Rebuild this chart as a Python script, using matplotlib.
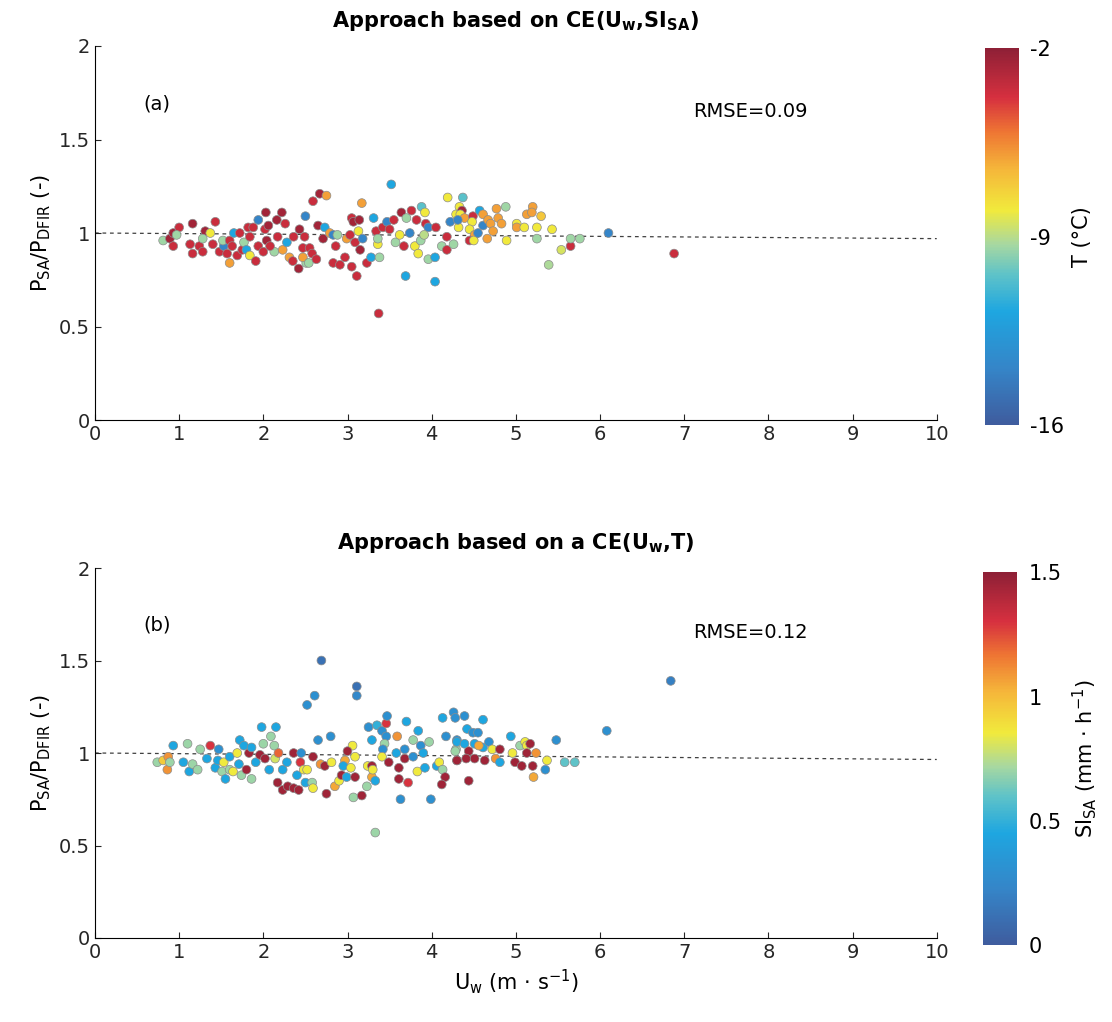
import numpy as np
import matplotlib
matplotlib.use("Agg")
import matplotlib.pyplot as plt
from matplotlib.colors import LinearSegmentedColormap, Normalize

# panel (a): wind speed, ratio, temperature
u_a = [0.81, 0.89, 0.93, 1.00, 0.97, 0.93, 1.16, 1.13, 1.16, 1.24, 1.28, 1.31, 1.37, 1.28, 1.40,
       1.43, 1.48, 1.53, 1.52, 1.57, 1.60, 1.60, 1.65, 1.63, 1.69, 1.72, 1.75, 1.77, 1.80, 1.82,
       1.84, 1.88, 1.84, 1.91, 1.94, 1.94, 2.00, 2.02, 2.03, 2.06, 2.04, 2.13, 2.08, 2.16, 2.22,
       2.17, 2.23, 2.26, 2.28, 2.31, 2.35, 2.36, 2.42, 2.43, 2.47, 2.49, 2.50, 2.51, 2.67, 2.75,
       2.59, 2.55, 2.58, 2.47, 2.54, 2.63, 2.65, 2.71, 2.73, 2.79, 2.83, 2.88, 2.83, 2.91, 2.86,
       2.97, 2.99, 3.03, 3.05, 3.07, 3.05, 3.09, 3.11, 3.14, 3.15, 3.17, 3.13, 3.18, 3.23, 3.31,
       3.34, 3.36, 3.36, 3.37, 3.28, 3.38, 3.42, 3.47, 3.52, 3.50, 3.55, 3.57, 3.62, 3.64, 3.67,
       3.69, 3.70, 3.74, 3.76, 3.80, 3.82, 3.84, 3.87, 3.88, 3.92, 3.93, 3.96, 3.96, 4.04, 4.04,
       4.05, 3.91, 4.12, 4.18, 4.18, 4.19, 4.22, 4.26, 4.29, 4.37, 4.33, 4.36, 4.34, 4.39, 4.49,
       4.57, 4.61, 4.48, 4.32, 4.45, 4.31, 4.61, 4.67, 4.70, 4.77, 4.88, 4.79, 4.83, 4.73, 4.51,
       4.45, 4.50, 4.66, 4.89, 4.55, 5.01, 5.01, 5.13, 5.20, 5.19, 5.10, 5.25, 5.30, 5.43, 5.25,
       5.54, 5.65, 5.65, 5.76, 5.39, 6.10, 6.88]
ratio_a = [0.96, 0.97, 1.00, 1.03, 0.99, 0.93, 1.05, 0.94, 0.89, 0.93, 0.90, 1.01, 1.00, 0.97, 0.94,
           1.06, 0.90, 0.93, 0.96, 0.89, 0.84, 0.96, 1.00, 0.93, 0.88, 1.00, 0.91, 0.95, 0.91, 1.03,
           0.88, 1.03, 0.98, 0.85, 1.07, 0.93, 0.90, 1.02, 1.11, 1.04, 0.96, 0.90, 0.93, 1.07, 1.11,
           0.98, 0.91, 1.05, 0.95, 0.87, 0.85, 0.98, 0.81, 1.02, 0.92, 0.98, 1.09, 0.84, 1.21, 1.20,
           1.17, 0.92, 0.89, 0.87, 0.84, 0.86, 1.04, 0.97, 1.03, 1.00, 0.99, 0.99, 0.84, 0.83, 0.93,
           0.87, 0.97, 0.99, 1.08, 1.06, 0.82, 0.95, 0.77, 1.07, 0.91, 1.16, 1.01, 0.97, 0.84, 1.08,
           1.01, 0.94, 0.97, 0.57, 0.87, 0.87, 1.03, 1.06, 1.26, 1.02, 1.07, 0.95, 0.99, 1.11, 0.93,
           0.77, 1.08, 1.00, 1.12, 0.93, 1.07, 0.89, 0.96, 1.14, 1.11, 1.05, 1.03, 0.86, 0.87, 0.74,
           1.03, 0.99, 0.93, 0.91, 0.98, 1.19, 1.06, 0.94, 1.10, 1.19, 1.14, 1.12, 1.10, 1.08, 1.09,
           1.12, 1.10, 1.06, 1.03, 1.02, 1.07, 1.04, 1.07, 1.05, 1.13, 1.14, 1.08, 1.05, 1.01, 0.99,
           0.96, 0.96, 0.97, 0.96, 1.00, 1.05, 1.03, 1.10, 1.14, 1.11, 1.03, 1.03, 1.09, 1.02, 0.97,
           0.91, 0.93, 0.97, 0.97, 0.83, 1.00, 0.89]
temp_a = [-9.4, -2.5, -2.5, -3.5, -9.4, -3.5, -2.5, -3.5, -3.5, -3.5, -3.5, -2.5, -8, -9.4, -3.5,
          -3.5, -3.5, -13.9, -9.4, -3.5, -6, -3.5, -11.8, -3.5, -3.5, -3.5, -3.5, -9.4, -11.8, -3.5,
          -8, -3.5, -3.5, -3.5, -13.9, -3.5, -3.5, -3.5, -2.5, -2.5, -2.5, -9.4, -3.5, -2.5, -2.5,
          -3.5, -6, -3.5, -11.8, -6, -3.5, -3.5, -2.5, -2.5, -3.5, -3.5, -13.9, -9.4, -2.5, -6,
          -3.5, -3.5, -3.5, -6, -9.4, -3.5, -2.5, -2.5, -11.8, -6, -13.9, -9.4, -3.5, -3.5, -3.5,
          -3.5, -6, -3.5, -3.5, -2.5, -3.5, -3.5, -3.5, -2.5, -2.5, -6, -8, -13.9, -3.5, -11.8,
          -3.5, -8, -9.4, -3.5, -11.8, -9.4, -3.5, -13.9, -11.8, -3.5, -3.5, -9.4, -8, -2.5, -3.5,
          -11.8, -9.4, -13.9, -3.5, -8, -3.5, -8, -9.4, -10.5, -8, -3.5, -13.9, -9.4, -11.8, -11.8,
          -3.5, -9, -9.4, -3.5, -3.5, -8, -13.9, -9.4, -8, -10.5, -8, -2.5, -8, -6, -3.5,
          -11.8, -6, -8, -8, -8, -13.9, -13.9, -6, -6, -6, -9.4, -6, -6, -6, -6,
          -3.5, -8, -6, -8, -13.9, -8, -6, -6, -6, -6, -8, -8, -7, -8, -9.4,
          -8.5, -3.5, -9.4, -9.4, -9.2, -13.9, -3.5]

# panel (b): wind speed, ratio, snowfall intensity
u_b = [0.74, 0.81, 0.87, 0.86, 0.89, 0.93, 1.05, 1.10, 1.12, 1.16, 1.25, 1.22, 1.33, 1.37, 1.43,
       1.47, 1.46, 1.53, 1.51, 1.55, 1.60, 1.60, 1.64, 1.69, 1.71, 1.74, 1.72, 1.77, 1.80, 1.83,
       1.86, 1.86, 1.91, 1.96, 2.02, 2.00, 2.09, 1.98, 2.15, 2.13, 2.14, 2.07, 2.17, 2.23, 2.18,
       2.23, 2.28, 2.29, 2.36, 2.42, 2.36, 2.45, 2.44, 2.40, 2.48, 2.50, 2.52, 2.61, 2.69, 2.65,
       2.80, 3.11, 3.11, 2.59, 2.68, 2.73, 2.81, 2.52, 2.58, 2.59, 2.75, 2.85, 2.90, 2.93, 2.97,
       2.95, 2.99, 3.04, 3.06, 3.00, 3.09, 3.09, 3.07, 3.17, 3.23, 3.24, 3.29, 3.29, 3.33, 3.30,
       3.33, 3.25, 3.29, 3.35, 3.41, 3.46, 3.46, 3.47, 3.44, 3.42, 3.41, 3.49, 3.59, 3.58, 3.61,
       3.61, 3.63, 3.68, 3.68, 3.70, 3.72, 3.78, 3.78, 3.83, 3.84, 3.87, 3.90, 3.92, 3.97, 3.99,
       4.06, 4.09, 4.13, 4.16, 4.12, 4.17, 4.13, 4.26, 4.28, 4.30, 4.29, 4.30, 4.39, 4.61, 4.42,
       4.49, 4.55, 4.30, 4.39, 4.51, 4.61, 4.68, 4.56, 4.72, 4.28, 4.44, 4.30, 4.41, 4.51, 4.63,
       4.76, 4.81, 4.81, 4.94, 4.96, 4.99, 5.07, 5.05, 5.11, 5.13, 5.17, 5.13, 5.24, 5.20, 5.21,
       5.37, 5.35, 5.48, 5.58, 5.70, 4.44, 6.08, 6.84]
ratio_b = [0.95, 0.96, 0.98, 0.91, 0.95, 1.04, 0.95, 1.05, 0.90, 0.94, 1.02, 0.91, 0.97, 1.04, 0.92,
           1.02, 0.96, 0.95, 0.90, 0.86, 0.98, 0.91, 0.90, 1.00, 0.94, 0.88, 1.07, 1.04, 0.91, 1.00,
           1.03, 0.86, 0.95, 0.99, 0.97, 1.05, 1.09, 1.14, 1.14, 1.04, 0.97, 0.91, 0.84, 0.80, 1.00,
           0.91, 0.95, 0.82, 0.81, 0.80, 1.00, 1.00, 0.95, 0.88, 0.91, 0.84, 1.26, 1.31, 1.50, 1.07,
           1.09, 1.36, 1.31, 0.98, 0.94, 0.93, 0.95, 0.91, 0.84, 0.81, 0.78, 0.82, 0.85, 0.88, 0.96,
           0.93, 0.87, 0.92, 1.04, 1.01, 0.98, 0.87, 0.76, 0.77, 0.82, 0.93, 0.93, 0.87, 0.85, 0.91,
           0.57, 1.14, 1.07, 1.15, 1.12, 1.16, 1.09, 1.20, 1.05, 1.02, 0.98, 0.95, 1.09, 1.00, 0.92,
           0.86, 0.75, 1.02, 0.97, 1.17, 0.84, 1.07, 0.98, 0.90, 1.12, 1.04, 1.00, 0.92, 1.06, 0.75,
           0.93, 0.95, 0.91, 0.87, 0.83, 1.09, 1.19, 1.22, 1.19, 1.07, 1.02, 0.96, 1.20, 1.18, 1.13,
           1.11, 1.11, 1.06, 1.05, 1.05, 1.03, 1.06, 1.04, 1.02, 1.01, 1.01, 0.96, 0.97, 0.97, 0.96,
           0.97, 1.02, 0.95, 1.09, 1.00, 0.95, 0.93, 1.04, 1.06, 1.04, 1.05, 1.00, 1.00, 0.93, 0.87,
           0.96, 0.91, 1.07, 0.95, 0.95, 0.85, 1.12, 1.39]
si_b = [0.7, 0.95, 1.1, 1.1, 0.7, 0.45, 0.45, 0.7, 0.45, 0.7, 0.7, 0.7, 0.45, 1.3, 0.45,
        0.3, 0.45, 0.85, 0.7, 0.45, 0.45, 0.7, 0.85, 0.85, 0.45, 0.7, 0.45, 0.45, 1.45, 1.45,
        0.45, 0.7, 0.45, 1.45, 1.45, 0.7, 0.7, 0.45, 0.45, 0.7, 0.8, 0.45, 1.45, 1.45, 1.2,
        0.45, 0.45, 1.45, 1.45, 1.45, 1.45, 0.3, 1.3, 0.45, 0.85, 0.45, 0.3, 0.3, 0.12, 0.3,
        0.3, 0.12, 0.25, 1.45, 1.1, 1.45, 0.85, 0.85, 0.7, 0.85, 1.45, 1.05, 0.85, 1.45, 1.05,
        0.45, 0.45, 0.85, 0.85, 1.45, 0.85, 1.45, 0.7, 1.45, 0.7, 0.85, 1.45, 1.05, 0.45, 0.85,
        0.7, 0.3, 0.45, 0.5, 0.3, 1.3, 0.3, 0.3, 0.7, 0.3, 0.85, 1.45, 1.1, 0.45, 1.45,
        1.45, 0.3, 0.3, 1.45, 0.45, 1.3, 0.7, 0.3, 0.85, 0.45, 0.3, 0.45, 0.45, 0.7, 0.3,
        0.45, 0.85, 0.7, 1.45, 1.45, 0.3, 0.45, 0.3, 0.3, 0.3, 0.7, 1.45, 0.3, 0.45, 0.45,
        0.3, 0.3, 0.45, 0.45, 0.45, 0.45, 0.3, 1.05, 0.85, 0.7, 1.45, 1.45, 1.45, 1.45, 1.45,
        1.1, 1.45, 0.45, 0.45, 0.85, 1.45, 1.45, 0.7, 0.85, 0.85, 1.45, 1.45, 1.1, 1.45, 1.05,
        0.85, 0.3, 0.3, 0.6, 0.6, 1.45, 0.3, 0.2]

# fitted reference line
fit_u = [0, 10]
fit_a = [1.0, 0.97]
fit_b = [1.0, 0.965]

cmap = LinearSegmentedColormap.from_list("scan", [
    (0.0, "#3f5c9e"), (0.15, "#3585c8"), (0.3, "#1ea6e0"), (0.4, "#5fc3c8"),
    (0.48, "#a8d8a0"), (0.57, "#f1ea3c"), (0.68, "#f5b63a"), (0.78, "#ee7433"),
    (0.87, "#d6303f"), (1.0, "#8e2036")])

fig = plt.figure(figsize=(11.12, 10.22), dpi=100)
ax1 = fig.add_axes([0.0854, 0.589, 0.757, 0.366])
ax2 = fig.add_axes([0.0854, 0.0822, 0.757, 0.362])
cax1 = fig.add_axes([0.886, 0.584, 0.030, 0.369])
cax2 = fig.add_axes([0.884, 0.075, 0.031, 0.365])

panels = [
    (ax1, cax1, u_a, ratio_a, temp_a, fit_a, Normalize(-16, -2), [-16, -9, -2], "T (°C)",
     r"Approach based on CE(U$_{\mathbf{w}}$,SI$_{\mathbf{SA}}$)", "(a)", "RMSE=0.09"),
    (ax2, cax2, u_b, ratio_b, si_b, fit_b, Normalize(0, 1.5), [0, 0.5, 1, 1.5],
     r"SI$_{\mathrm{SA}}$ (mm $\cdot$ h$^{\mathrm{-1}}$)",
     r"Approach based on a CE(U$_{\mathbf{w}}$,T)", "(b)", "RMSE=0.12"),
]

for ax, cax, u, r, c, fit, norm, cticks, clabel, title, tag, rmse in panels:
    ax.plot(fit_u, fit, ls=(0, (3, 3)), color="0.25", lw=0.9, zorder=1)
    sc = ax.scatter(u, r, c=c, cmap=cmap, norm=norm, s=40, edgecolors="0.55",
                    linewidths=0.5, zorder=2)
    ax.set_xlim(0, 10)
    ax.set_ylim(0, 2)
    ax.set_xticks(range(11))
    ax.set_yticks([0, 0.5, 1, 1.5, 2])
    ax.set_yticklabels(["0", "0.5", "1", "1.5", "2"])
    ax.spines["top"].set_visible(False)
    ax.spines["right"].set_visible(False)
    ax.tick_params(direction="in", length=4, labelsize=14, colors="0.15")
    ax.set_ylabel(r"P$_{\mathrm{SA}}$/P$_{\mathrm{DFIR}}$ (-)", fontsize=15)
    ax.set_title(title, fontsize=15, fontweight="bold", pad=14)
    ax.text(0.57, 1.66, tag, fontsize=14)
    ax.text(7.1, 1.62, rmse, fontsize=14)

    cb = fig.colorbar(sc, cax=cax, ticks=cticks)
    cb.outline.set_visible(False)
    cb.ax.tick_params(length=0, labelsize=15, pad=8)
    cb.set_label(clabel, fontsize=15, labelpad=6)

ax2.set_xlabel(r"U$_{\mathrm{w}}$ (m $\cdot$ s$^{\mathrm{-1}}$)", fontsize=15)
cax1.set_yticklabels(["-16", "-9", "-2"])
cax2.set_yticklabels(["0", "0.5", "1", "1.5"])

fig.savefig("out.png", dpi=100)
